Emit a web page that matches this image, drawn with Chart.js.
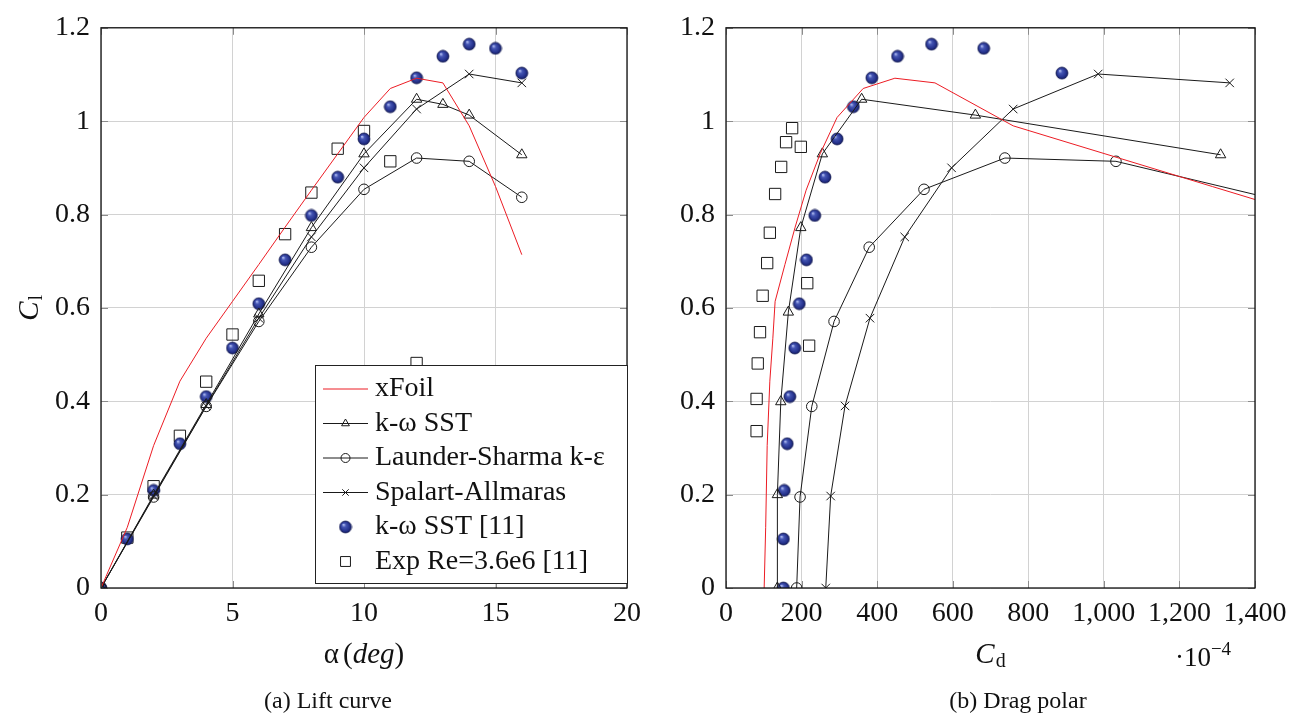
<!DOCTYPE html>
<html>
<head>
<meta charset="utf-8">
<script src="https://cdn.jsdelivr.net/npm/chart.js@4.4.1/dist/chart.umd.min.js"></script>
<style>
  body { margin: 0; background: #fff; }
  .panel { position: absolute; top: 0; }
</style>
</head>
<body>
<div class="panel" style="left:0"><canvas id="lift" width="650" height="716"></canvas></div>
<div class="panel" style="left:650px"><canvas id="polar" width="653" height="716"></canvas></div>
<script>
// ---- values ----
// (a) lift curve, alpha in degrees
const alphaXfoil = [0, 1, 2, 3, 4, 5, 6, 7, 8, 9, 10, 11, 12, 13, 14, 15, 16];
const clXfoil = [0, 0.13, 0.305, 0.443, 0.535, 0.614, 0.693, 0.773, 0.852, 0.93, 1.008, 1.07, 1.092, 1.082, 0.99, 0.86, 0.714];

const alphaSst = [0, 2, 4, 6, 8, 10, 12, 13, 14, 16];
const clSst = [0, 0.199, 0.393, 0.587, 0.772, 0.93, 1.047, 1.036, 1.013, 0.928];

const alphaLs = [0, 2, 4, 6, 8, 10, 12, 14, 16];
const clLs = [0, 0.195, 0.389, 0.571, 0.73, 0.854, 0.921, 0.914, 0.837];

const alphaSa = [0, 2, 4, 6, 8, 10, 12, 14, 16];
const clSa = [0, 0.197, 0.39, 0.578, 0.752, 0.9, 1.026, 1.101, 1.082];

const alphaSstRef = [0, 1, 2, 3, 4, 5, 6, 7, 8, 9, 10, 11, 12, 13, 14, 15, 16];
const clSstRef = [0, 0.105, 0.209, 0.309, 0.41, 0.514, 0.609, 0.703, 0.798, 0.88, 0.962, 1.031, 1.093, 1.139, 1.165, 1.156, 1.103];

const alphaExp = [1, 2, 3, 4, 5, 6, 7, 8, 9, 10, 11, 12];
const clExp = [0.108, 0.218, 0.326, 0.442, 0.543, 0.658, 0.758, 0.847, 0.941, 0.979, 0.914, 0.482];

// (b) drag polar, Cd in units of 1e-4
const cdXfoil = [101, 105, 109, 116, 124, 130, 156, 183, 212, 249, 294, 363, 447, 553, 760, 1287, 1880];
const cdSst = [136, 136, 145, 165, 198, 255, 359, 660, 1309];
const clSstPolar = [0, 0.2, 0.399, 0.591, 0.772, 0.93, 1.047, 1.013, 0.928];
const cdLs = [187, 196, 227, 286, 379, 524, 738, 1032, 1430];
const cdSa = [264, 277, 315, 381, 473, 597, 760, 985, 1333];
const cdSstRef = [152, 152, 154, 162, 169, 182, 194, 213, 235, 262, 294, 337, 386, 454, 544, 682, 889];
const cdExp = [81, 81, 84, 90, 97, 109, 116, 130, 146, 159, 175, 198, 215, 220];
const clExpPolar = [0.336, 0.405, 0.481, 0.548, 0.626, 0.696, 0.761, 0.844, 0.902, 0.955, 0.985, 0.945, 0.653, 0.519];

const alphaTicks = [0, 5, 10, 15, 20];
const clTicks = [0, 0.2, 0.4, 0.6, 0.8, 1, 1.2];
const cdTicks = [0, 200, 400, 600, 800, 1000, 1200, 1400];

const seriesNames = ['xFoil', 'k-\u03c9 SST', 'Launder-Sharma k-\u03b5', 'Spalart-Allmaras', 'k-\u03c9 SST [11]', 'Exp Re=3.6e6 [11]'];

const SERIF = "'Liberation Serif', 'DejaVu Serif', serif";
const RED = '#ec1c24';
const INK = '#1a1a1a';

function zip(xs, ys) {
    return xs.map(function (x, i) { return {x: x, y: ys[i]}; });
}

// shaded blue ball used by the reference simulation
function makeBall(r) {
    const c = document.createElement('canvas');
    const s = Math.ceil(r * 2 + 2);
    c.width = c.height = s;
    const g = c.getContext('2d');
    const m = s / 2;
    const grad = g.createRadialGradient(m - r * 0.35, m - r * 0.4, r * 0.05, m, m, r);
    grad.addColorStop(0, '#b4c0f4');
    grad.addColorStop(0.3, '#4556b4');
    grad.addColorStop(0.75, '#26338e');
    grad.addColorStop(1, '#141c60');
    g.fillStyle = grad;
    g.beginPath();
    g.arc(m, m, r, 0, Math.PI * 2);
    g.fill();
    g.strokeStyle = '#10174f';
    g.lineWidth = 0.7;
    g.stroke();
    return c;
}
const ball = makeBall(6);

const styles = [
    {showLine: true, borderColor: RED, pointRadius: 0, pointStyle: false},
    {showLine: true, borderColor: INK, pointStyle: 'triangle', pointRadius: 6},
    {showLine: true, borderColor: INK, pointStyle: 'circle', pointRadius: 5.3},
    {showLine: true, borderColor: INK, pointStyle: 'crossRot', pointRadius: 6},
    {showLine: false, borderColor: INK, pointStyle: ball, pointRadius: 6},
    {showLine: false, borderColor: INK, pointStyle: 'rect', pointRadius: 8}
];

function makeDatasets(pointsList) {
    return pointsList.map(function (pts, i) {
        const st = styles[i];
        return {
            label: seriesNames[i],
            data: pts,
            showLine: st.showLine,
            borderColor: st.borderColor,
            borderWidth: 1,
            backgroundColor: 'rgba(0,0,0,0)',
            pointStyle: st.pointStyle,
            pointRadius: st.pointRadius,
            pointHoverRadius: st.pointRadius,
            pointBorderColor: st.borderColor,
            pointBackgroundColor: 'rgba(0,0,0,0)',
            pointBorderWidth: 1,
            tension: 0
        };
    });
}

// draws text made of runs with different fonts, centred on cx
function drawRuns(ctx, runs, cx, baseline) {
    let total = 0;
    runs.forEach(function (r) {
        ctx.font = r.font;
        r.w = ctx.measureText(r.t).width;
        total += r.w + (r.gap || 0);
    });
    let x = cx - total / 2;
    ctx.textAlign = 'left';
    ctx.textBaseline = 'alphabetic';
    runs.forEach(function (r) {
        ctx.font = r.font;
        ctx.fillText(r.t, x, baseline + (r.dy || 0));
        x += r.w + (r.gap || 0);
    });
}

const decor = {
    id: 'decor',
    afterDatasetsDraw(chart, args, opts) {
        const ctx = chart.ctx;
        const a = chart.chartArea;
        const xs = chart.scales.x, ys = chart.scales.y;
        ctx.save();
        // inner tick marks on all four sides
        ctx.strokeStyle = '#8c8c8c';
        ctx.lineWidth = 1;
        ctx.beginPath();
        xs.ticks.forEach(function (t) {
            const px = Math.round(xs.getPixelForValue(t.value)) + 0.5;
            ctx.moveTo(px, a.bottom); ctx.lineTo(px, a.bottom - 7);
            ctx.moveTo(px, a.top); ctx.lineTo(px, a.top + 7);
        });
        ys.ticks.forEach(function (t) {
            const py = Math.round(ys.getPixelForValue(t.value)) + 0.5;
            ctx.moveTo(a.left, py); ctx.lineTo(a.left + 7, py);
            ctx.moveTo(a.right, py); ctx.lineTo(a.right - 7, py);
        });
        ctx.stroke();
        // frame
        ctx.strokeStyle = '#111';
        ctx.lineWidth = 1.3;
        ctx.strokeRect(a.left, a.top, a.right - a.left, a.bottom - a.top);

        ctx.fillStyle = '#111';
        const cx = (a.left + a.right) / 2;
        if (opts.kind === 'lift') {
            drawRuns(ctx, [
                {t: '\u03b1', font: '29px ' + SERIF, gap: 4},
                {t: '(', font: '29px ' + SERIF},
                {t: 'deg', font: 'italic 29px ' + SERIF},
                {t: ')', font: '29px ' + SERIF}
            ], cx, 663);
            // rotated C_l
            ctx.save();
            ctx.translate(38, (a.top + a.bottom) / 2);
            ctx.rotate(-Math.PI / 2);
            drawRuns(ctx, [
                {t: 'C', font: 'italic 29px ' + SERIF, gap: 1},
                {t: 'l', font: '20px ' + SERIF, dy: 4}
            ], 0, 0);
            ctx.restore();
        } else {
            drawRuns(ctx, [
                {t: 'C', font: 'italic 29px ' + SERIF, gap: 1},
                {t: 'd', font: '20px ' + SERIF, dy: 4}
            ], cx, 663);
            drawRuns(ctx, [
                {t: '\u00b710', font: '27px ' + SERIF},
                {t: '\u22124', font: '19px ' + SERIF, dy: -11}
            ], 1203 - 650, 666);
        }
        ctx.font = '24px ' + SERIF;
        ctx.textAlign = 'center';
        ctx.textBaseline = 'alphabetic';
        ctx.fillText(opts.caption, opts.captionX, 708);

        if (opts.legend) drawLegend(ctx);
        ctx.restore();
    }
};

function drawLegend(ctx) {
    const bx = 315, by = 365, bw = 312, bh = 218;
    ctx.fillStyle = '#fff';
    ctx.fillRect(bx, by, bw, bh);
    ctx.strokeStyle = '#222';
    ctx.lineWidth = 1;
    ctx.strokeRect(bx + 0.5, by + 0.5, bw, bh);
    seriesNames.forEach(function (name, i) {
        const st = styles[i];
        const y = 389 + i * 34.5;
        if (st.showLine) {
            ctx.strokeStyle = st.borderColor;
            ctx.lineWidth = 1;
            ctx.beginPath();
            ctx.moveTo(323, y); ctx.lineTo(368, y);
            ctx.stroke();
        }
        if (st.pointStyle) {
            ctx.strokeStyle = st.borderColor;
            ctx.fillStyle = 'rgba(0,0,0,0)';
            ctx.lineWidth = 1;
            const small = st.pointStyle === 'rect' ? 7 : (st.pointStyle === ball ? 6 : 4.5);
            Chart.helpers.drawPoint(ctx, {pointStyle: st.pointStyle, radius: small, rotation: 0, borderWidth: 1}, 345.5, y);
        }
        ctx.fillStyle = '#111';
        ctx.font = '28px ' + SERIF;
        ctx.textAlign = 'left';
        ctx.textBaseline = 'middle';
        ctx.fillText(name, 375, y);
    });
}

function fmtCl(v) {
    return String(Math.round(v * 10) / 10);
}

function makeOptions(cfg) {
    return {
        responsive: false,
        animation: false,
        events: [],
        layout: {padding: {top: 21, right: cfg.padRight, left: 0, bottom: 0}},
        scales: {
            x: {
                type: 'linear',
                min: cfg.xTicks[0],
                max: cfg.xTicks[cfg.xTicks.length - 1],
                afterBuildTicks: function (s) { s.ticks = cfg.xTicks.map(function (v) { return {value: v}; }); },
                afterFit: function (s) { s.height = 128; },
                grid: {color: '#d2d2d2', lineWidth: 1, drawTicks: false},
                border: {display: false},
                ticks: {
                    padding: 9,
                    color: '#111',
                    font: {family: SERIF, size: 28},
                    maxRotation: 0,
                    autoSkip: false,
                    callback: cfg.xFmt
                }
            },
            y: {
                type: 'linear',
                min: 0,
                max: 1.2,
                afterBuildTicks: function (s) { s.ticks = clTicks.map(function (v) { return {value: v}; }); },
                afterFit: function (s) { s.width = cfg.yWidth; },
                grid: {color: '#d2d2d2', lineWidth: 1, drawTicks: false},
                border: {display: false},
                ticks: {
                    padding: 11,
                    color: '#111',
                    font: {family: SERIF, size: 28},
                    autoSkip: false,
                    callback: fmtCl
                }
            }
        },
        plugins: {
            legend: {display: false},
            tooltip: {enabled: false},
            decor: cfg.decor
        }
    };
}

new Chart(document.getElementById('lift'), {
    type: 'scatter',
    data: {
        datasets: makeDatasets([
            zip(alphaXfoil, clXfoil),
            zip(alphaSst, clSst),
            zip(alphaLs, clLs),
            zip(alphaSa, clSa),
            zip(alphaSstRef, clSstRef),
            zip(alphaExp, clExp)
        ])
    },
    options: makeOptions({
        xTicks: alphaTicks,
        padRight: 20,
        yWidth: 101,
        xFmt: function (v) { return String(v); },
        decor: {kind: 'lift', caption: '(a) Lift curve', captionX: 328, legend: true}
    }),
    plugins: [decor]
});

new Chart(document.getElementById('polar'), {
    type: 'scatter',
    data: {
        datasets: makeDatasets([
            zip(cdXfoil, clXfoil),
            zip(cdSst, clSstPolar),
            zip(cdLs, clLs),
            zip(cdSa, clSa),
            zip(cdSstRef, clSstRef),
            zip(cdExp, clExpPolar)
        ])
    },
    options: makeOptions({
        xTicks: cdTicks,
        padRight: 48,
        yWidth: 76,
        xFmt: function (v) { return v.toLocaleString('en-US'); },
        decor: {kind: 'polar', caption: '(b) Drag polar', captionX: 1018 - 650, legend: false}
    }),
    plugins: [decor]
});
</script>
</body>
</html>
